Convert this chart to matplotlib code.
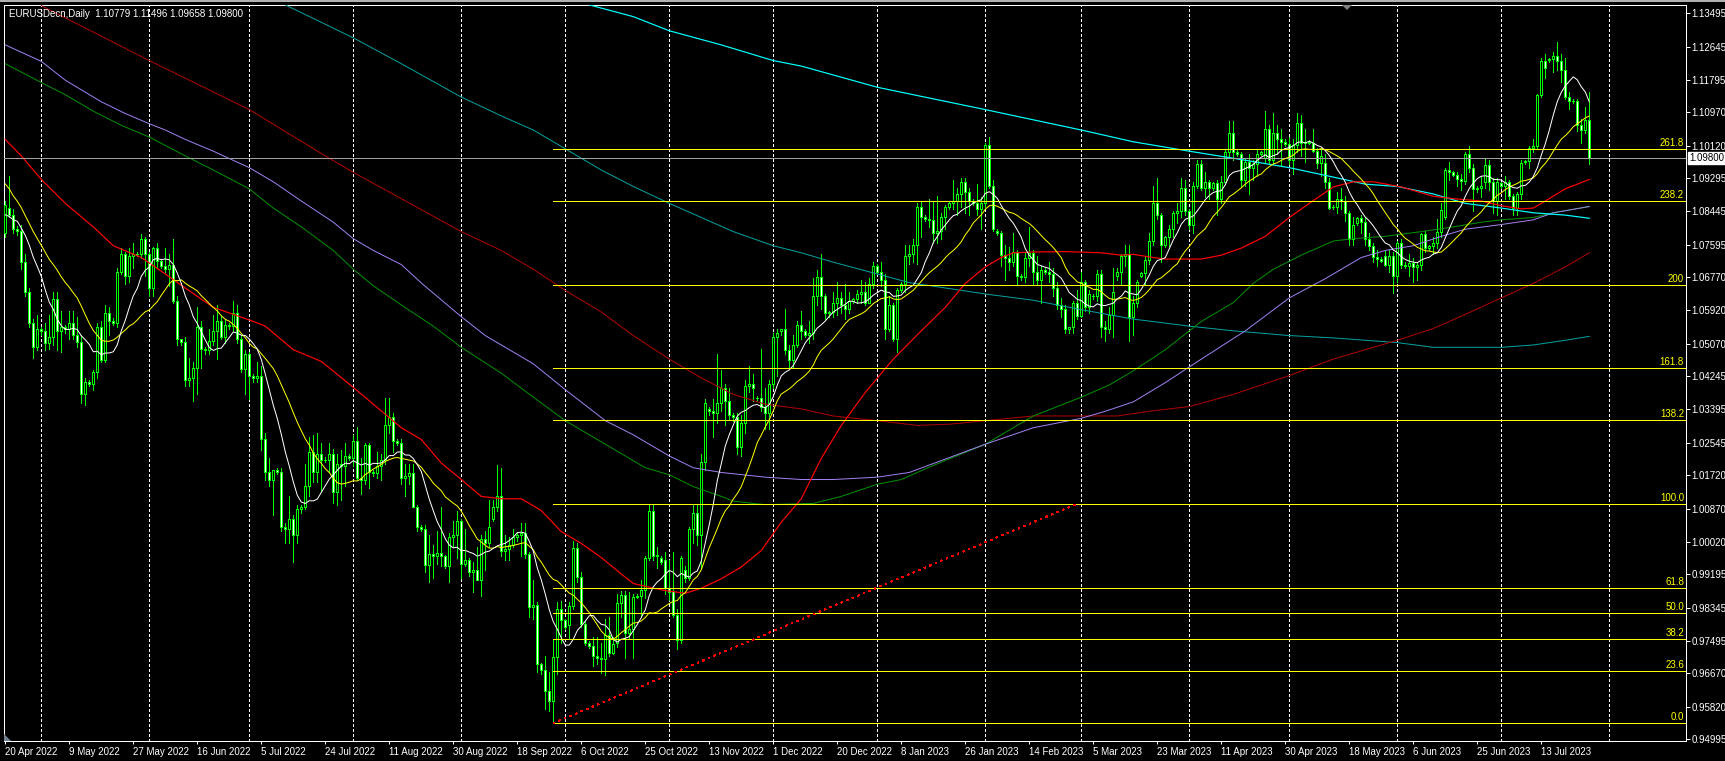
import numpy as np
import pandas as pd
import matplotlib
matplotlib.use('Agg')
import matplotlib.pyplot as plt
from matplotlib.collections import LineCollection, PolyCollection
from matplotlib.patches import Polygon
import matplotlib.transforms as mtransforms

plt.rcParams['font.family'] = ['Liberation Sans', 'DejaVu Sans']

# ---------------- data (daily bars, index 0 = 20 Apr 2022) ----------------
opens = [
 1.0790,1.0852,1.0836,1.0800,1.0795,1.0715,1.0640,1.0560,1.0500,1.0545,
 1.0540,1.0510,1.0525,1.0620,1.0540,1.0550,1.0545,1.0560,1.0530,1.0512,
 1.0380,1.0410,1.0405,1.0435,1.0550,1.0465,1.0585,1.0565,1.0560,1.0690,
 1.0735,1.0680,1.0730,1.0735,1.0737,1.0775,1.0735,1.0650,1.0750,1.0718,
 1.0705,1.0698,1.0708,1.0615,1.0518,1.0512,1.0415,1.0420,1.0445,1.0550,
 1.0495,1.0490,1.0515,1.0540,1.0565,1.0525,1.0555,1.0552,1.0585,1.0520,
 1.0442,1.0482,1.0425,1.0420,1.0425,1.0265,1.0180,1.0160,1.0185,1.0180,
 1.0040,1.0035,1.0060,1.0020,1.0085,1.0090,1.0145,1.0230,1.0180,1.0225,
 1.0212,1.0210,1.0225,1.0130,1.0200,1.0195,1.0220,1.0215,1.0260,1.0165,
 1.0160,1.0250,1.0180,1.0178,1.0195,1.0212,1.0300,1.0320,1.0260,1.0255,
 1.0165,1.0170,1.0178,1.0090,1.0040,1.0035,0.9943,0.9970,0.9967,0.9973,
 0.9965,0.9940,1.0015,1.0020,1.0055,0.9945,0.9955,0.9925,0.9930,0.9905,
 1.0010,1.0000,1.0060,1.0090,1.0120,0.9980,0.9985,0.9995,1.0015,1.0020,
 1.0025,0.9970,0.9835,0.9840,0.9690,0.9675,0.9623,0.9597,0.9708,0.9832,
 0.9802,0.9790,0.9838,0.9987,0.9913,0.9792,0.9745,0.9737,0.9710,0.9706,
 0.9704,0.9765,0.9720,0.9743,0.9845,0.9866,0.9770,0.9780,0.9862,0.9865,
 0.9880,0.9962,1.0080,0.9965,0.9960,0.9955,0.9884,0.9878,0.9815,0.9752,
 0.9930,0.9910,1.0035,1.0075,1.0020,1.0205,1.0340,1.0335,1.0330,1.0355,
 1.0395,1.0360,1.0325,1.0320,1.0245,1.0305,1.0400,1.0405,1.0370,1.0370,
 1.0345,1.0330,1.0405,1.0525,1.0540,1.0545,1.0490,1.0465,1.0505,1.0555,
 1.0540,1.0530,1.0535,1.0630,1.0678,1.0628,1.0585,1.0588,1.0610,1.0625,
 1.0605,1.0595,1.0615,1.0620,1.0635,1.0638,1.0612,1.0660,1.0705,1.0690,
 1.0670,1.0545,1.0605,1.0520,1.0645,1.0660,1.0730,1.0735,1.0760,1.0855,
 1.0830,1.0826,1.0822,1.0790,1.0795,1.0830,1.0855,1.0865,1.0870,1.0888,
 1.0920,1.0895,1.0870,1.0865,1.0850,1.0865,1.1015,1.0910,1.0795,1.0790,
 1.0733,1.0725,1.0715,1.0740,1.0680,1.0678,1.0725,1.0738,1.0690,1.0670,
 1.0695,1.0690,1.0685,1.0650,1.0605,1.0595,1.0545,1.0550,1.0610,1.0578,
 1.0665,1.0600,1.0630,1.0628,1.0685,1.0550,1.0545,1.0580,1.0680,1.0690,
 1.0730,1.0735,1.0575,1.0610,1.0680,1.0688,1.0720,1.0770,1.0865,1.0835,
 1.0760,1.0778,1.0800,1.0840,1.0845,1.0905,1.0845,1.0810,1.0910,1.0965,
 1.0905,1.0920,1.0905,1.0918,1.0875,1.0920,1.0995,1.1045,1.0995,1.0992,
 1.0925,1.0970,1.0955,1.0965,1.0990,1.0980,1.1055,1.0975,1.1045,1.1030,
 1.1022,1.1016,1.0975,1.1015,1.1070,1.1020,1.1022,1.1020,1.0998,1.0968,
 1.0968,1.0920,1.0855,1.0855,1.0877,1.0870,1.0840,1.0775,1.0815,1.0827,
 1.0817,1.0775,1.0757,1.0727,1.0723,1.0730,1.0709,1.0730,1.0679,1.0763,
 1.0709,1.0705,1.0713,1.0703,1.0708,1.0787,1.0751,1.0757,1.0763,1.0793,
 1.0830,1.0950,1.0944,1.0938,1.0926,1.0921,1.0992,1.0956,1.0902,1.0905,
 1.0920,1.0962,1.0920,1.0871,1.0916,1.0908,1.0920,1.0885,1.0853,1.0889,
 1.0970,1.0974,1.1007,1.1012,1.1142,1.1229,1.1230,1.1233,1.1241,1.1229,
 1.1205,1.1136,1.1127,1.1125,1.1064,1.1052,1.10779]
highs = [
 1.0870,1.0936,1.0850,1.0808,1.0810,1.0735,1.0650,1.0570,1.0580,1.0550,
 1.0560,1.0580,1.0640,1.0640,1.0590,1.0555,1.0590,1.0590,1.0575,1.0530,
 1.0420,1.0415,1.0440,1.0560,1.0565,1.0605,1.0600,1.0572,1.0700,1.0750,
 1.0740,1.0750,1.0765,1.0740,1.0787,1.0780,1.0740,1.0755,1.0765,1.0722,
 1.0750,1.0735,1.0775,1.0630,1.0520,1.0525,1.0470,1.0460,1.0600,1.0565,
 1.0500,1.0545,1.0580,1.0605,1.0580,1.0570,1.0560,1.0615,1.0605,1.0530,
 1.0490,1.0485,1.0430,1.0460,1.0450,1.0280,1.0215,1.0185,1.0190,1.0190,
 1.0050,1.0120,1.0070,1.0095,1.0095,1.0200,1.0270,1.0275,1.0280,1.0255,
 1.0218,1.0255,1.0240,1.0225,1.0235,1.0255,1.0225,1.0275,1.0295,1.0215,
 1.0255,1.0255,1.0185,1.0230,1.0225,1.0370,1.0370,1.0330,1.0265,1.0265,
 1.0200,1.0200,1.0200,1.0095,1.0045,1.0045,1.0020,0.9995,1.0030,1.0090,
 0.9968,1.0025,1.0055,1.0080,1.0060,1.0035,0.9960,0.9950,0.9990,1.0020,
 1.0030,1.0110,1.0110,1.0198,1.0190,1.0020,1.0015,1.0035,1.0025,1.0050,
 1.0050,0.9975,0.9905,0.9850,0.9692,0.9710,0.9670,0.9752,0.9848,0.9852,
 0.9805,0.9850,1.0005,0.9998,0.9925,0.9800,0.9750,0.9760,0.9760,0.9745,
 0.9805,0.9810,0.9760,0.9870,0.9876,0.9876,0.9875,0.9870,0.9868,0.9905,
 0.9965,1.0095,1.0095,0.9990,0.9965,0.9975,0.9955,0.9976,0.9830,0.9965,
 0.9940,1.0040,1.0095,1.0095,1.0225,1.0365,1.0345,1.0365,1.0480,1.0440,
 1.0405,1.0395,1.0330,1.0330,1.0325,1.0415,1.0450,1.0430,1.0375,1.0495,
 1.0395,1.0415,1.0535,1.0545,1.0545,1.0595,1.0505,1.0530,1.0565,1.0590,
 1.0545,1.0565,1.0675,1.0695,1.0735,1.0635,1.0590,1.0640,1.0665,1.0640,
 1.0660,1.0640,1.0625,1.0645,1.0670,1.0665,1.0675,1.0715,1.0710,1.0715,
 1.0685,1.0630,1.0610,1.0650,1.0665,1.0760,1.0760,1.0775,1.0865,1.0870,
 1.0835,1.0875,1.0870,1.0885,1.0840,1.0860,1.0870,1.0925,1.0905,1.0930,
 1.0930,1.0905,1.0875,1.0915,1.0880,1.1020,1.1034,1.0925,1.0800,1.0795,
 1.0760,1.0755,1.0790,1.0745,1.0685,1.0740,1.0805,1.0745,1.0730,1.0705,
 1.0700,1.0715,1.0700,1.0665,1.0625,1.0605,1.0550,1.0615,1.0645,1.0690,
 1.0670,1.0645,1.0635,1.0695,1.0695,1.0565,1.0600,1.0700,1.0700,1.0735,
 1.0760,1.0760,1.0630,1.0670,1.0690,1.0730,1.0790,1.0910,1.0930,1.0840,
 1.0782,1.0810,1.0845,1.0865,1.0930,1.0925,1.0850,1.0920,1.0975,1.0975,
 1.0945,1.0925,1.0920,1.0925,1.0935,1.1000,1.1075,1.1075,1.1000,1.0995,
 1.0980,1.0990,1.0975,1.1000,1.0998,1.1100,1.1065,1.1095,1.1065,1.1055,
 1.1030,1.1035,1.1030,1.1095,1.1090,1.1055,1.1026,1.1055,1.1005,1.1000,
 1.0990,1.0930,1.0860,1.0895,1.0905,1.0885,1.0845,1.0830,1.0830,1.0835,
 1.0830,1.0790,1.0765,1.0745,1.0727,1.0745,1.0745,1.0740,1.0770,1.0775,
 1.0715,1.0735,1.0725,1.0715,1.0790,1.0795,1.0760,1.0780,1.0825,1.0865,
 1.0955,1.0970,1.0948,1.0945,1.0940,1.0995,1.1012,1.0965,1.0910,1.0935,
 1.0980,1.0975,1.0930,1.0930,1.0920,1.0935,1.0925,1.0890,1.0895,1.0975,
 1.0975,1.1010,1.1030,1.1145,1.1235,1.1245,1.1235,1.1250,1.1277,1.1245,
 1.1235,1.1150,1.1132,1.1130,1.1080,1.1110,1.11496]
lows = [
 1.0780,1.0830,1.0790,1.0785,1.0697,1.0630,1.0550,1.0472,1.0490,1.0530,
 1.0490,1.0495,1.0505,1.0490,1.0485,1.0535,1.0520,1.0520,1.0500,1.0355,
 1.0350,1.0400,1.0390,1.0420,1.0460,1.0460,1.0530,1.0555,1.0550,1.0685,
 1.0660,1.0665,1.0700,1.0730,1.0725,1.0680,1.0630,1.0630,1.0700,1.0700,
 1.0690,1.0655,1.0610,1.0505,1.0505,1.0400,1.0400,1.0360,1.0380,1.0445,
 1.0480,1.0480,1.0505,1.0468,1.0520,1.0510,1.0545,1.0540,1.0510,1.0435,
 1.0380,1.0365,1.0410,1.0410,1.0235,1.0160,1.0145,1.0070,1.0175,1.0030,
 0.9998,0.9998,0.9952,1.0000,1.0075,1.0085,1.0120,1.0155,1.0155,1.0130,
 1.0205,1.0180,1.0100,1.0095,1.0110,1.0145,1.0210,1.0195,1.0160,1.0125,
 1.0150,1.0140,1.0170,1.0165,1.0160,1.0200,1.0280,1.0230,1.0250,1.0150,
 1.0120,1.0150,1.0090,1.0030,1.0030,0.9925,0.9900,0.9910,0.9945,0.9940,
 0.9935,0.9900,0.9990,0.9960,0.9910,0.9940,0.9915,0.9875,0.9905,0.9865,
 0.9930,0.9990,1.0055,1.0080,0.9965,0.9955,0.9955,0.9990,1.0005,0.9965,
 0.9960,0.9810,0.9805,0.9670,0.9665,0.9575,0.9570,0.9540,0.9665,0.9745,
 0.9780,0.9755,0.9830,0.9900,0.9785,0.9740,0.9732,0.9686,0.9690,0.9668,
 0.9663,0.9710,0.9715,0.9735,0.9810,0.9705,0.9755,0.9705,0.9858,0.9810,
 0.9860,0.9955,0.9955,0.9935,0.9945,0.9870,0.9855,0.9810,0.9730,0.9745,
 0.9900,0.9905,1.0000,0.9995,0.9935,1.0185,1.0325,1.0270,1.0305,1.0335,
 1.0300,1.0315,1.0310,1.0225,1.0220,1.0280,1.0385,1.0360,1.0360,1.0335,
 1.0290,1.0290,1.0395,1.0425,1.0530,1.0480,1.0445,1.0445,1.0500,1.0520,
 1.0525,1.0510,1.0520,1.0605,1.0595,1.0570,1.0575,1.0575,1.0580,1.0585,
 1.0570,1.0585,1.0610,1.0610,1.0610,1.0605,1.0610,1.0650,1.0685,1.0655,
 1.0520,1.0540,1.0515,1.0485,1.0640,1.0640,1.0710,1.0715,1.0710,1.0780,
 1.0820,1.0805,1.0765,1.0765,1.0775,1.0800,1.0850,1.0850,1.0835,1.0855,
 1.0840,1.0835,1.0860,1.0835,1.0800,1.0855,1.0905,1.0795,1.0785,1.0705,
 1.0670,1.0695,1.0705,1.0660,1.0670,1.0665,1.0705,1.0660,1.0660,1.0610,
 1.0685,1.0665,1.0630,1.0595,1.0575,1.0535,1.0535,1.0535,1.0570,1.0575,
 1.0590,1.0585,1.0620,1.0615,1.0525,1.0515,1.0535,1.0525,1.0670,1.0660,
 1.0705,1.0515,1.0530,1.0600,1.0678,1.0660,1.0710,1.0760,1.0825,1.0715,
 1.0755,1.0750,1.0780,1.0815,1.0830,1.0835,1.0800,1.0790,1.0905,1.0900,
 1.0880,1.0875,1.0900,1.0835,1.0865,1.0915,1.0985,1.0975,1.0985,1.0910,
 1.0910,1.0890,1.0925,1.0935,1.0988,1.0970,1.0965,1.0965,1.0990,1.0960,
 1.1010,1.0965,1.0940,1.0995,1.0985,1.0970,1.1016,1.0995,1.0955,1.0935,
 1.0905,1.0850,1.0850,1.0840,1.0850,1.0820,1.0760,1.0760,1.0810,1.0790,
 1.0760,1.0745,1.0715,1.0705,1.0715,1.0705,1.0690,1.0637,1.0665,1.0700,
 1.0700,1.0680,1.0665,1.0670,1.0695,1.0740,1.0745,1.0735,1.0750,1.0780,
 1.0825,1.0925,1.0935,1.0910,1.0900,1.0915,1.0945,1.0845,1.0895,1.0880,
 1.0905,1.0900,1.0840,1.0835,1.0905,1.0875,1.0875,1.0835,1.0835,1.0875,
 1.0965,1.0955,1.0995,1.1005,1.1135,1.1185,1.1225,1.1200,1.1205,1.1175,
 1.1130,1.1105,1.1120,1.1050,1.1020,1.1045,1.09658]
closes = [
 1.0860,1.0836,1.0800,1.0795,1.0715,1.0640,1.0560,1.0500,1.0545,1.0540,
 1.0510,1.0525,1.0620,1.0540,1.0550,1.0545,1.0560,1.0530,1.0512,1.0380,
 1.0410,1.0405,1.0435,1.0550,1.0465,1.0585,1.0565,1.0560,1.0690,1.0735,
 1.0680,1.0730,1.0735,1.0737,1.0775,1.0735,1.0650,1.0750,1.0718,1.0705,
 1.0698,1.0708,1.0615,1.0518,1.0512,1.0415,1.0420,1.0445,1.0550,1.0495,
 1.0490,1.0515,1.0540,1.0565,1.0525,1.0555,1.0552,1.0585,1.0520,1.0442,
 1.0482,1.0425,1.0420,1.0425,1.0265,1.0180,1.0160,1.0185,1.0180,1.0040,
 1.0035,1.0060,1.0020,1.0085,1.0090,1.0145,1.0230,1.0180,1.0225,1.0212,
 1.0210,1.0225,1.0130,1.0200,1.0195,1.0220,1.0215,1.0260,1.0165,1.0160,
 1.0250,1.0180,1.0178,1.0195,1.0212,1.0300,1.0320,1.0260,1.0255,1.0165,
 1.0170,1.0178,1.0090,1.0040,1.0035,0.9943,0.9970,0.9967,0.9973,0.9965,
 0.9940,1.0015,1.0020,1.0055,0.9945,0.9955,0.9925,0.9930,0.9905,1.0010,
 1.0000,1.0040,1.0090,1.0120,0.9980,0.9985,0.9995,1.0015,1.0020,1.0025,
 0.9970,0.9835,0.9840,0.9690,0.9675,0.9623,0.9597,0.9708,0.9832,0.9802,
 0.9785,0.9838,0.9987,0.9913,0.9792,0.9745,0.9737,0.9710,0.9706,0.9704,
 0.9765,0.9718,0.9742,0.9845,0.9866,0.9770,0.9780,0.9862,0.9865,0.9880,
 0.9962,1.0080,0.9965,0.9968,0.9952,0.9884,0.9875,0.9815,0.9752,0.9962,
 0.9910,1.0035,1.0075,1.0020,1.0205,1.0355,1.0335,1.0330,1.0355,1.0395,
 1.0360,1.0325,1.0320,1.0245,1.0305,1.0400,1.0405,1.0395,1.0370,1.0345,
 1.0330,1.0405,1.0525,1.0535,1.0545,1.0490,1.0465,1.0505,1.0555,1.0540,
 1.0530,1.0535,1.0630,1.0678,1.0628,1.0585,1.0588,1.0610,1.0625,1.0605,
 1.0595,1.0615,1.0620,1.0635,1.0638,1.0612,1.0660,1.0705,1.0690,1.0670,
 1.0545,1.0605,1.0520,1.0645,1.0660,1.0730,1.0735,1.0760,1.0855,1.0830,
 1.0826,1.0822,1.0790,1.0795,1.0830,1.0855,1.0865,1.0870,1.0888,1.0920,
 1.0895,1.0870,1.0865,1.0850,1.0865,1.1015,1.0910,1.0800,1.0790,1.0733,
 1.0725,1.0715,1.0740,1.0680,1.0678,1.0725,1.0738,1.0690,1.0670,1.0695,
 1.0690,1.0685,1.0650,1.0605,1.0595,1.0545,1.0550,1.0610,1.0578,1.0665,
 1.0600,1.0635,1.0628,1.0685,1.0550,1.0545,1.0580,1.0640,1.0690,1.0730,
 1.0735,1.0575,1.0610,1.0665,1.0688,1.0720,1.0770,1.0865,1.0835,1.0760,
 1.0778,1.0800,1.0840,1.0845,1.0905,1.0845,1.0810,1.0910,1.0965,1.0905,
 1.0920,1.0905,1.0918,1.0875,1.0920,1.0995,1.1045,1.0995,1.0992,1.0925,
 1.0970,1.0955,1.0965,1.0990,1.0995,1.1055,1.0975,1.1045,1.1030,1.1022,
 1.1016,1.0975,1.1015,1.1070,1.1020,1.1022,1.1020,1.0998,1.0968,1.0985,
 1.0920,1.0853,1.0855,1.0877,1.0870,1.0840,1.0775,1.0810,1.0827,1.0817,
 1.0775,1.0757,1.0727,1.0723,1.0718,1.0709,1.0730,1.0679,1.0763,1.0709,
 1.0705,1.0713,1.0703,1.0708,1.0787,1.0751,1.0757,1.0763,1.0793,1.0847,
 1.0950,1.0944,1.0938,1.0926,1.0921,1.0992,1.0956,1.0902,1.0905,1.0908,
 1.0962,1.0920,1.0871,1.0920,1.0908,1.0920,1.0885,1.0853,1.0889,1.0968,
 1.0974,1.1007,1.1012,1.1142,1.1229,1.1209,1.1233,1.1241,1.1229,1.1205,
 1.1136,1.1127,1.1125,1.1064,1.1052,1.1078,1.09800]
# closes of the 19 bars before the first visible bar (for the 10/20 moving-average warm-up)
warmup_closes = [1.1085,1.1160,1.1065,1.1045,1.1045,1.0970,1.0905,1.0900,1.0880,1.0875,
                 1.0880,1.0885,1.0830,1.0890,1.0825,1.0810,1.0810,1.0780,1.0788]

# slower moving averages (bar index, price)
ma_red_x = [0,4,9,15,22,27,34,40,45,52,57,62,65,72,79,87,92,99,104,109,114,119,124,129,134,139,144,149,
            154,157,162,165,170,174,179,184,189,194,199,204,209,215,222,229,235,240,245,249,252,257,265,
            274,279,282,287,290,299,304,309,315,321,326,332,337,342,349,357,362,369,374,379,382,385,390,396]
ma_red_y = [1.1028,1.0986,1.0926,1.0865,1.0805,1.0757,1.0727,1.0685,1.0649,1.0600,1.0582,1.0564,1.0552,
            1.0492,1.0462,1.0396,1.0353,1.0293,1.0263,1.0203,1.0161,1.0118,1.0112,1.0112,1.0082,1.0028,
            0.9998,0.9962,0.9920,0.9896,0.9884,0.9878,0.9871,0.9884,0.9908,0.9938,0.9980,1.0052,1.0112,
            1.0215,1.0299,1.0383,1.0468,1.0540,1.0600,1.0661,1.0703,1.0727,1.0739,1.0741,1.0742,1.0739,
            1.0733,1.0735,1.0727,1.0723,1.0723,1.0733,1.0751,1.0781,1.0829,1.0865,1.0907,1.0920,1.0920,
            1.0907,1.0883,1.0877,1.0871,1.0859,1.0851,1.0853,1.0871,1.0902,1.0926]
ma_green_x = [0,9,15,22,29,36,45,52,61,67,74,82,87,92,99,107,114,124,132,140,145,152,160,166,172,179,
              182,187,190,202,209,218,224,232,245,257,269,276,282,290,299,307,312,317,324,332,337,345,
              354,362,369,374,382,387,396]
ma_green_y = [1.1221,1.1173,1.1142,1.1100,1.1064,1.1034,1.0986,1.0950,1.0902,1.0853,1.0805,1.0745,1.0697,
              1.0655,1.0606,1.0552,1.0498,1.0432,1.0371,1.0311,1.0281,1.0239,1.0191,1.0173,1.0143,1.0118,
              1.0106,1.0100,1.0097,1.0100,1.0118,1.0149,1.0161,1.0197,1.0251,1.0323,1.0371,1.0402,1.0438,
              1.0492,1.0564,1.0612,1.0661,1.0697,1.0733,1.0769,1.0775,1.0781,1.0793,1.0805,1.0817,1.0823,
              1.0829,1.0841,1.0857]
ma_purple_x = [0,9,15,24,30,36,40,45,52,61,67,74,82,87,92,99,104,114,120,132,140,150,157,166,172,179,
               190,199,207,218,226,245,257,269,275,282,290,299,310,321,330,339,345,352,359,365,374,382,
               387,396]
ma_purple_y = [1.1269,1.1227,1.1179,1.1124,1.1094,1.1068,1.1052,1.1028,1.0998,1.0956,1.0920,1.0871,
               1.0817,1.0775,1.0745,1.0709,1.0662,1.0576,1.0528,1.0456,1.0390,1.0311,1.0275,1.0221,
               1.0191,1.0179,1.0167,1.0161,1.0161,1.0167,1.0179,1.0251,1.0293,1.0317,1.0335,1.0359,
               1.0408,1.0468,1.0540,1.0624,1.0673,1.0727,1.0745,1.0757,1.0781,1.0799,1.0811,1.0823,
               1.0841,1.0857]
ma_maroon_x = [9,36,61,80,87,99,114,124,132,140,149,157,166,174,182,190,199,207,218,228,236,245,257,
               269,278,286,296,307,321,332,348,357,365,374,382,390,396]
ma_maroon_y = [1.1369,1.1229,1.1104,1.0986,1.0944,1.0877,1.0793,1.0745,1.0697,1.0643,1.0588,1.0528,
               1.0468,1.0420,1.0378,1.0353,1.0341,1.0323,1.0311,1.0299,1.0302,1.0311,1.0323,1.0323,
               1.0323,1.0335,1.0347,1.0378,1.0426,1.0468,1.0516,1.0546,1.0582,1.0624,1.0661,1.0703,
               1.0739]
ma_teal_x = [70,87,99,114,124,132,140,149,157,166,174,182,192,199,207,218,226,245,257,269,282,296,307,
             321,332,348,357,374,382,390,396]
ma_teal_y = [1.1371,1.1287,1.1221,1.1136,1.1088,1.1052,1.1004,1.0950,1.0908,1.0865,1.0829,1.0793,
             1.0757,1.0739,1.0715,1.0685,1.0663,1.0634,1.0618,1.0594,1.0570,1.0552,1.0540,1.0528,
             1.0522,1.0510,1.0498,1.0498,1.0504,1.0516,1.0526]
ma_cyan_x = [146,157,166,179,192,199,218,245,269,282,296,307,321,332,340,348,357,365,374,382,390,396]
ma_cyan_y = [1.1371,1.1341,1.1305,1.1269,1.1229,1.1215,1.1161,1.1104,1.1052,1.1022,1.0998,1.0980,
             1.0956,1.0932,1.0914,1.0908,1.0889,1.0865,1.0853,1.0841,1.0835,1.0827]

# Fibonacci retracement / extension
fib_start_bar = 137
fib_price_0 = 0.9540
fib_price_100 = 1.0099
fib_end_bar = 268
fib_levels = [0.0, 23.6, 38.2, 50.0, 61.8, 100.0, 138.2, 161.8, 200.0, 238.2, 261.8]
fib_labels = ['0.0', '23.6', '38.2', '50.0', '61.8', '100.0', '138.2', '161.8', '200', '238.2', '261.8']

last_price = 1.09800
price_ticks = [1.13495, 1.12645, 1.11795, 1.10970, 1.10120, 1.09295, 1.08445, 1.07595, 1.06770,
               1.05920, 1.05070, 1.04245, 1.03395, 1.02545, 1.01720, 1.00870, 1.00020, 0.99195,
               0.98345, 0.97495, 0.96670, 0.95820, 0.94995]
date_tick_bars = [0,16,32,48,64,80,96,112,128,144,160,176,192,208,224,240,256,272,288,304,320,336,352,368,384]
date_tick_labels = ['20 Apr 2022','9 May 2022','27 May 2022','16 Jun 2022','5 Jul 2022','24 Jul 2022',
                    '11 Aug 2022','30 Aug 2022','18 Sep 2022','6 Oct 2022','25 Oct 2022','13 Nov 2022',
                    '1 Dec 2022','20 Dec 2022','8 Jan 2023','26 Jan 2023','14 Feb 2023','5 Mar 2023',
                    '23 Mar 2023','11 Apr 2023','30 Apr 2023','18 May 2023','6 Jun 2023','25 Jun 2023',
                    '13 Jul 2023']
month_grid_bars = [9,36,61,87,114,140,166,192,218,245,269,296,321,348,374,401]
title_text = 'EURUSDecn,Daily  1.10779 1.11496 1.09658 1.09800'

# ---------------- figure ----------------
W, H, DPI = 1725, 761, 100
PX = 72.0 / DPI
fig = plt.figure(figsize=(W / DPI, H / DPI), dpi=DPI)
fig.patch.set_facecolor('black')
L_, R_, T_, B_ = 4, 1686, 5, 741
ax = fig.add_axes([L_ / W, 1 - B_ / H, (R_ - L_) / W, (B_ - T_) / H])
ax.set_facecolor('black')
ax.set_xlim(-0.325, 420.175)
ax.set_ylim(0.94944, 1.13707)

o = np.array(opens); h = np.array(highs); l = np.array(lows); c = np.array(closes)
n = len(c)
xs = np.arange(n)
THIN = 0.8 * PX
MAW = 1.0 * PX

# grid (month separators)
for b in month_grid_bars:
    ax.axvline(b, color='white', lw=THIN, ls=(0, (3.5, 3.5)), zorder=1, antialiased=False)

# candles
LIME = '#00FF00'
wicks = LineCollection([[(i, l[i]), (i, h[i])] for i in xs], colors=LIME,
                       linewidths=THIN, antialiaseds=False, zorder=2)
ax.add_collection(wicks)
hw = 0.27
verts = [[(i - hw, o[i]), (i + hw, o[i]), (i + hw, c[i]), (i - hw, c[i])] for i in xs]
fcs = ['black' if c[i] > o[i] else 'white' for i in xs]
bodies = PolyCollection(verts, facecolors=fcs, edgecolors=LIME, linewidths=THIN,
                        antialiaseds=False, zorder=3)
ax.add_collection(bodies)

# moving averages (thin lines)
all_c = pd.Series(warmup_closes + closes)
sma10 = all_c.rolling(10).mean().values[len(warmup_closes):]
sma20 = all_c.rolling(20).mean().values[len(warmup_closes):]
ax.plot(ma_teal_x, ma_teal_y, color='#00A0A0', lw=MAW, zorder=4)
ax.plot(ma_maroon_x, ma_maroon_y, color='#B00000', lw=MAW, zorder=4)
ax.plot(ma_green_x, ma_green_y, color='#009000', lw=MAW, zorder=4)
ax.plot(ma_purple_x, ma_purple_y, color='#A080F0', lw=MAW, zorder=4)
ax.plot(ma_cyan_x, ma_cyan_y, color='#00FFFF', lw=1.2 * PX, zorder=4)
ax.plot(ma_red_x, ma_red_y, color='#FF0000', lw=1.2 * PX, zorder=4)
ax.plot(xs, sma20, color='#FFFF00', lw=MAW, zorder=5)
ax.plot(xs, sma10, color='white', lw=MAW, zorder=5)

# current price line
ax.axhline(last_price, color='#A0A0A0', lw=THIN, zorder=4.5, antialiased=False)

# fibonacci
xmax = ax.get_xlim()[1]
blend = mtransforms.blended_transform_factory(ax.transAxes, ax.transData)
for lev, lab in zip(fib_levels, fib_labels):
    yv = fib_price_0 + (fib_price_100 - fib_price_0) * lev / 100.0
    ax.plot([fib_start_bar, xmax], [yv, yv], color='#FFFF00', lw=THIN, zorder=6,
            antialiased=False, solid_capstyle='butt')
    ax.annotate(lab, xy=(1.0, yv), xycoords=blend, xytext=(-2, 1), textcoords='offset pixels',
                ha='right', va='bottom', color='#FFFF00', fontsize=7, zorder=7)
ax.plot([fib_start_bar, fib_end_bar], [fib_price_0, fib_price_100], color='#FF0000',
        lw=THIN, ls=(0, (2.5, 5.5)), zorder=6, antialiased=False)

# axes styling
for s in ax.spines.values():
    s.set_color('white'); s.set_linewidth(1 * PX)
ax.yaxis.tick_right()
ax.set_yticks(price_ticks)
ax.set_yticklabels([f'{v:.5f}' for v in price_ticks])
ax.tick_params(axis='y', colors='white', length=4 * PX, width=1 * PX, pad=1, labelsize=7,
               direction='out')
ax.set_xticks(date_tick_bars)
ax.set_xticklabels(date_tick_labels, ha='left')
ax.tick_params(axis='x', colors='white', length=3 * PX, width=1 * PX, pad=2, labelsize=7,
               direction='out')

# last price box on the price scale
ax.text(1.0 + 3.0 / (R_ - L_), last_price, '1.09800', transform=blend, ha='left', va='center',
        color='black', fontsize=7, zorder=10,
        bbox=dict(boxstyle='square,pad=0.12', fc='white', ec='white'), clip_on=False)

# title
fig.text(9 / W, 1 - 14 / H, title_text, color='white', fontsize=7, ha='left', va='center')

# window decorations
def fpx(xp, yp):
    return (xp / W, 1 - yp / H)
fig.add_artist(Polygon([fpx(0, 0), fpx(W, 0), fpx(W, 2), fpx(0, 2)], closed=True,
                       transform=fig.transFigure, fc='#B0B0B0', ec='none'))
fig.add_artist(Polygon([fpx(1342, 5), fpx(1352, 5), fpx(1347, 10)], closed=True,
                       transform=fig.transFigure, fc='#808080', ec='none'))
fig.add_artist(Polygon([fpx(4, 741), fpx(4, 734), fpx(11, 741)], closed=True,
                       transform=fig.transFigure, fc='#708090', ec='none'))

fig.savefig('out.png', dpi=DPI, facecolor='black')
